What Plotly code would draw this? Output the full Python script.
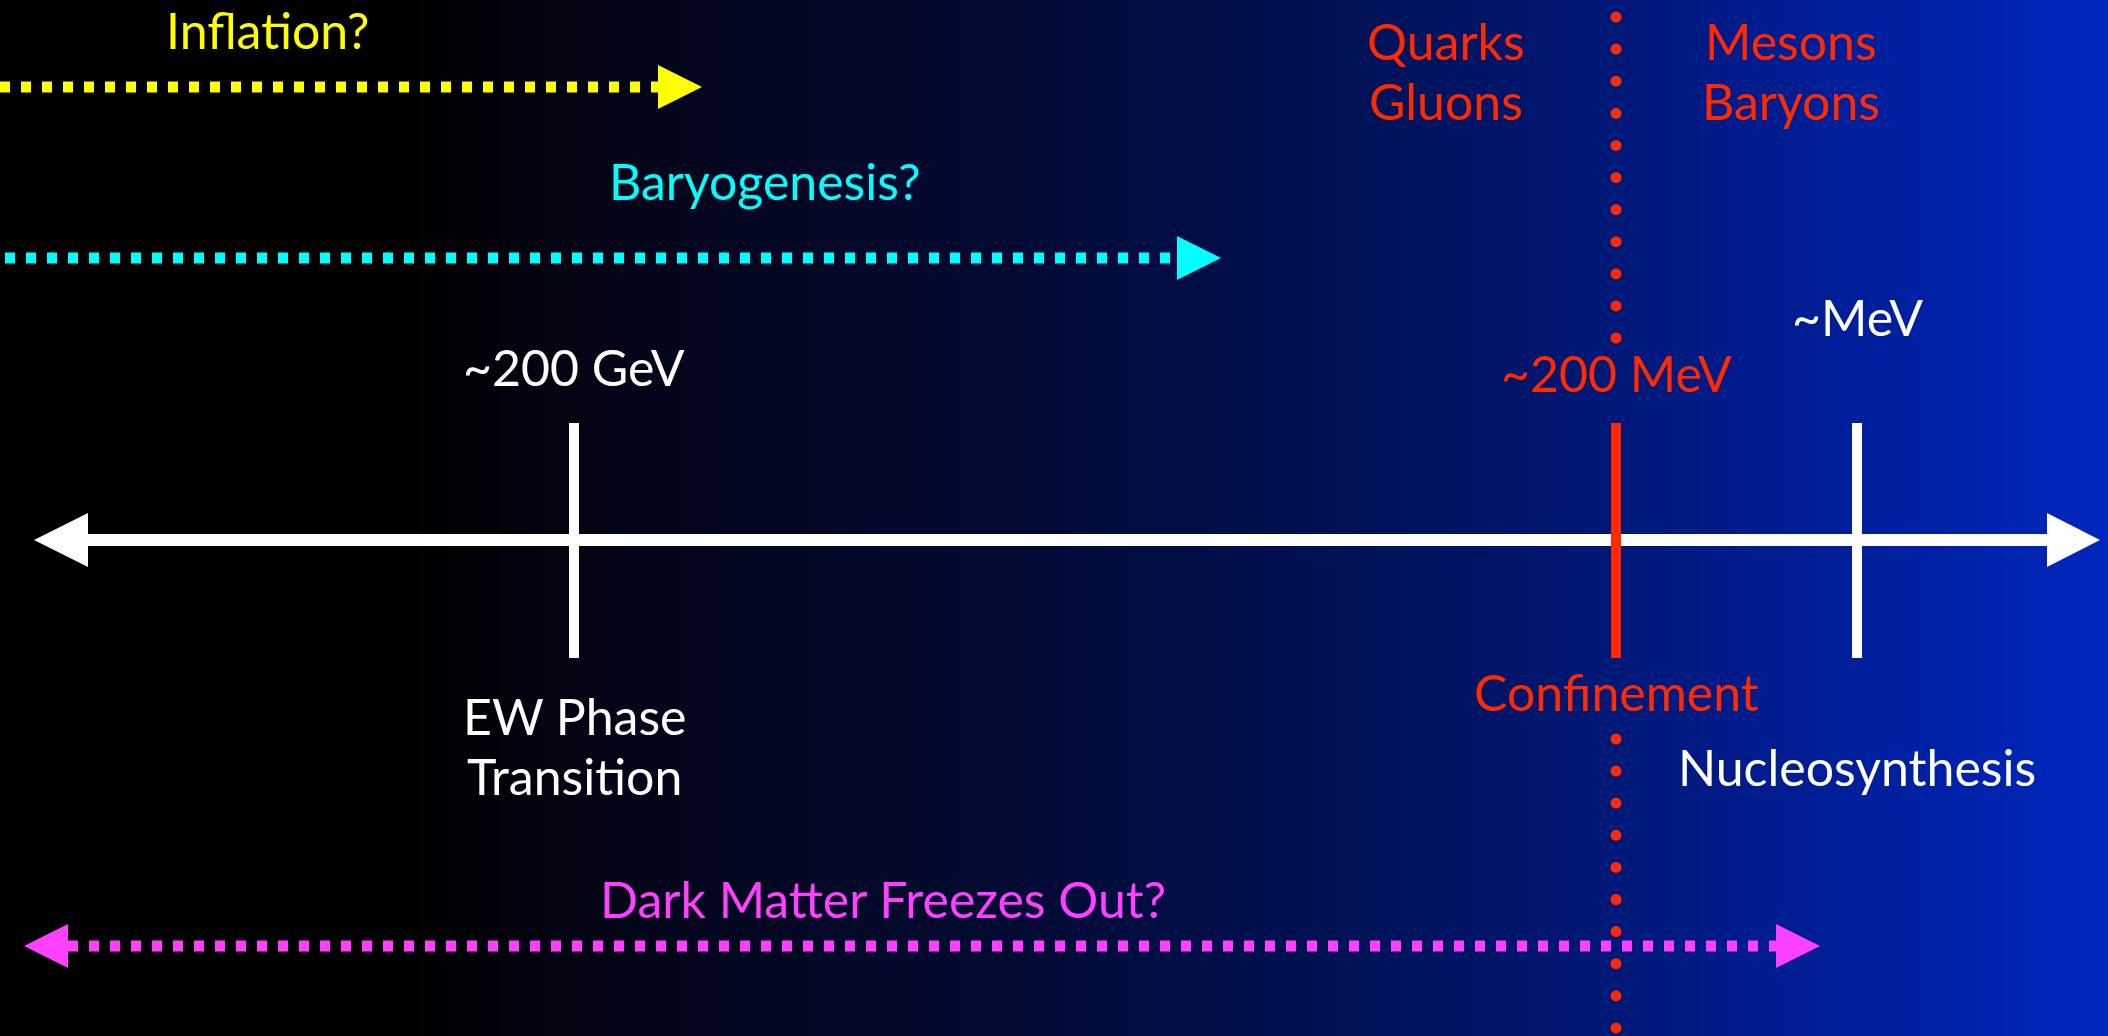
import numpy as np
import plotly.graph_objects as go

W, H = 2108, 1036

# ---------------- data ----------------
# schematic timeline (cooling universe, left = hotter / earlier)
event_names = ["EW Phase<br>Transition", "Confinement", "Nucleosynthesis"]
event_scales = ["~200 GeV", "~200 MeV", "~MeV"]
event_pos = [574, 1616, 1857]

epoch_names = ["Inflation?", "Baryogenesis?", "Dark Matter Freezes Out?"]
epoch_start = [0, 5, 24]
epoch_end = [702, 1221, 1820]
epoch_two_sided = [False, False, True]

phase_names = ["Quarks<br>Gluons", "Mesons<br>Baryons"]
phase_pos = [1446, 1791]

timeline_start, timeline_end = 34, 2100

# ---------------- styles ----------------
FONT = "Lato, 'Gill Sans', 'Noto Sans', sans-serif"
FS = 50
LINE_GAP = 60
WHITE = "#ffffff"
RED = "#ff2a00"
event_colors = [WHITE, RED, WHITE]
epoch_colors = ["#ffff00", "#00ffff", "#ff40ff"]
epoch_y = [87, 258, 946]
epoch_label_y = [30, 181, 899]
epoch_label_x = [267, 765, 883]
axis_y = 540
tick_top, tick_bot = 423, 658
scale_label_y = [367, 373, 317]
event_label_y = [716, 692, 767]
phase_label_y = 41

fig = go.Figure()

# background gradient
bg_x = [-100, 0, 400, 600, 1000, 1300, 1550, 1750, 1950, 2108, 2208]
bg_cols = ["#000000", "#000000", "#000000", "#030516", "#020a32", "#001050",
           "#00166e", "#001c8c", "#0021a8", "#0026be", "#0026be"]
zmin, zmax = bg_x[0], bg_x[-1]
cscale = [[(x - zmin) / (zmax - zmin), c] for x, c in zip(bg_x, bg_cols)]
fig.add_trace(go.Heatmap(x=bg_x, y=[-100, H + 100], z=[bg_x, bg_x],
                         colorscale=cscale, zmin=zmin, zmax=zmax, zsmooth="best",
                         showscale=False, hoverinfo="skip"))


def arrow_head(tip_x, y, length, half, direction, color):
    base = tip_x - direction * length
    fig.add_trace(go.Scatter(x=[tip_x, base, base, tip_x], y=[y, y - half, y + half, y],
                             mode="lines", fill="toself", fillcolor=color,
                             line=dict(width=0, color=color), hoverinfo="skip",
                             showlegend=False))


def label(x, y, text, color):
    for i, part in enumerate(text.split("<br>")):
        fig.add_annotation(x=x, y=y + i * LINE_GAP, text=part, showarrow=False,
                           font=dict(family=FONT, size=FS, color=color),
                           xanchor="center", yanchor="middle")


# epoch dotted arrows
for name, s, e, two, col, yy, lx, ly in zip(epoch_names, epoch_start, epoch_end,
                                            epoch_two_sided, epoch_colors, epoch_y,
                                            epoch_label_x, epoch_label_y):
    hl = 44
    x0 = s + hl if two else s
    x1 = e - hl
    fig.add_trace(go.Scatter(x=[x0, x1], y=[yy, yy], mode="lines",
                             line=dict(color=col, width=11, dash="10px,11px"),
                             hoverinfo="skip", showlegend=False))
    arrow_head(e, yy, hl, 22, 1, col)
    if two:
        arrow_head(s, yy, hl, 22, -1, col)
    label(lx, ly, name, col)

# red dotted confinement divider
conf_x = event_pos[1]
for a, b in [(17, 338), (739, 1027)]:
    ys = np.arange(a, b + 1, 32.1)
    fig.add_trace(go.Scatter(x=[conf_x] * len(ys), y=ys, mode="markers",
                             marker=dict(color=RED, size=11, line=dict(width=0)),
                             hoverinfo="skip", showlegend=False))

# main timeline
fig.add_trace(go.Scatter(x=[timeline_start + 50, timeline_end - 50], y=[axis_y, axis_y],
                         mode="lines", line=dict(color=WHITE, width=12),
                         hoverinfo="skip", showlegend=False))
arrow_head(timeline_start, axis_y, 54, 27, -1, WHITE)
arrow_head(timeline_end, axis_y, 53, 27, 1, WHITE)

# event ticks and labels
for name, sc, xp, col, sy, ey in zip(event_names, event_scales, event_pos, event_colors,
                                     scale_label_y, event_label_y):
    fig.add_trace(go.Scatter(x=[xp, xp], y=[tick_top, tick_bot], mode="lines",
                             line=dict(color=col, width=10),
                             hoverinfo="skip", showlegend=False))
    label(xp, sy, sc, col)
    label(xp, ey, name, col)

# phase labels
for name, xp in zip(phase_names, phase_pos):
    label(xp, phase_label_y, name, RED)

fig.update_layout(
    width=W, height=H, margin=dict(l=0, r=0, t=0, b=0, pad=0),
    paper_bgcolor="#000000", plot_bgcolor="#000000", showlegend=False,
    xaxis=dict(range=[0, W], visible=False, fixedrange=True),
    yaxis=dict(range=[H, 0], visible=False, fixedrange=True),
)

fig.write_html("out.html", config={"displayModeBar": False},
               post_script="document.body.style.margin='0';document.body.style.overflow='hidden';")
